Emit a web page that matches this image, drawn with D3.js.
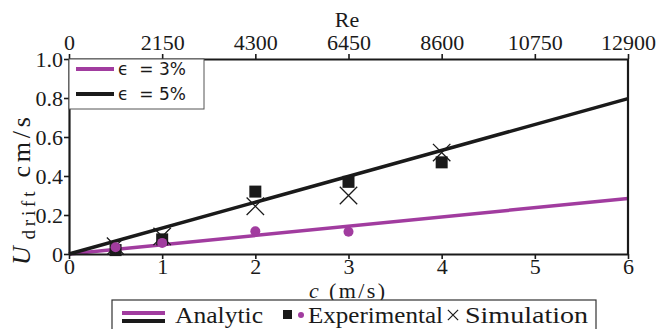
<!DOCTYPE html>
<html>
<head>
<meta charset="utf-8">
<script src="https://cdn.jsdelivr.net/npm/d3@7"></script>
<style>
  body { margin: 0; background: #fff; }
  .serif { font-family: "Liberation Serif", "DejaVu Serif", serif; fill: #1a1a1a; }
</style>
</head>
<body>
<div id="chart"></div>
<script>
// data
const speeds = [0.5, 1, 2, 3, 4];               // c (m/s)
const expFive = [0.02, 0.075, 0.32, 0.37, 0.47]; // experimental, eps = 5% (squares)
const expThreeC = [0.5, 1, 2, 3];
const expThree = [0.035, 0.057, 0.117, 0.114];   // experimental, eps = 3% (circles)
const simVals = [0.04, 0.09, 0.245, 0.30, 0.52]; // simulation (crosses)
const analyticC = [0, 6];
const analyticFive = [0, 0.797];
const analyticThree = [0, 0.285];
const xTicks = [0, 1, 2, 3, 4, 5, 6];
const yTicks = [0, 0.2, 0.4, 0.6, 0.8, 1.0];
const reTicks = [0, 2150, 4300, 6450, 8600, 10750, 12900];

const W = 660, H = 329;
const margin = { left: 69, right: 32, top: 59, bottom: 75 };
const purple = "#a13c9f", black = "#1a1a1a";
const fs = "22px";

const svg = d3.select("#chart").append("svg")
  .attr("width", W).attr("height", H);

const x = d3.scaleLinear().domain([0, 6]).range([margin.left, W - margin.right]);
const xRe = d3.scaleLinear().domain([0, 12900]).range([margin.left, W - margin.right]);
const y = d3.scaleLinear().domain([0, 1]).range([H - margin.bottom, margin.top]);

const plot = svg.append("g");

// analytic lines
const line = d3.line().x(d => x(d[0])).y(d => y(d[1]));
plot.append("path")
  .datum(analyticC.map((c, i) => [c, analyticThree[i]]))
  .attr("d", line).attr("fill", "none").attr("stroke", purple).attr("stroke-width", 3.5);
plot.append("path")
  .datum(analyticC.map((c, i) => [c, analyticFive[i]]))
  .attr("d", line).attr("fill", "none").attr("stroke", black).attr("stroke-width", 3.5);

// experimental squares
plot.selectAll(".sq").data(speeds.map((c, i) => [c, expFive[i]]))
  .join("rect")
  .attr("x", d => x(d[0]) - 6).attr("y", d => y(d[1]) - 6)
  .attr("width", 12).attr("height", 12).attr("fill", black);

// simulation crosses
const cross = d3.symbol().type(d3.symbolTimes).size(200);
plot.selectAll(".sim").data(speeds.map((c, i) => [c, simVals[i]]))
  .join("path")
  .attr("d", cross)
  .attr("transform", d => `translate(${x(d[0])},${y(d[1])})`)
  .attr("fill", "none").attr("stroke", black).attr("stroke-width", 1.3);

// experimental circles
plot.selectAll(".ci").data(expThreeC.map((c, i) => [c, expThree[i]]))
  .join("circle")
  .attr("cx", d => x(d[0])).attr("cy", d => y(d[1]))
  .attr("r", 5).attr("fill", purple);

// axes
const gBottom = svg.append("g")
  .attr("transform", `translate(0,${H - margin.bottom})`)
  .call(d3.axisBottom(x).tickValues(xTicks).tickFormat(d3.format("d")).tickSize(5).tickSizeOuter(0));
const gLeft = svg.append("g")
  .attr("transform", `translate(${margin.left},0)`)
  .call(d3.axisLeft(y).tickValues(yTicks).tickFormat(d => d === 0 ? "0" : d3.format(".1f")(d)).tickSize(5).tickSizeOuter(0));
const gTop = svg.append("g")
  .attr("transform", `translate(0,${margin.top})`)
  .call(d3.axisTop(xRe).tickValues(reTicks).tickFormat(d3.format("d")).tickSize(5).tickSizeOuter(0));
svg.append("line")
  .attr("x1", x(6)).attr("x2", x(6)).attr("y1", y(0)).attr("y2", y(1))
  .attr("stroke", black).attr("stroke-width", 2.2);

[gBottom, gLeft, gTop].forEach(g => {
  g.attr("font-family", null).attr("font-size", null);
  g.select(".domain").attr("stroke", black).attr("stroke-width", 2.2);
  g.selectAll(".tick line").attr("stroke", black).attr("stroke-width", 1.6);
  g.selectAll(".tick text").attr("class", "serif").style("font-size", fs).attr("fill", black);
});
gBottom.selectAll(".tick text").attr("dy", null).attr("y", 20);
gLeft.selectAll(".tick text").attr("x", -6).attr("dy", "0.35em");
gTop.selectAll(".tick text").attr("dy", null).attr("y", -9);

// axis titles
svg.append("text").attr("class", "serif").attr("x", 347).attr("y", 27)
  .attr("text-anchor", "middle").style("font-size", fs).text("Re");

const xl = svg.append("text").attr("class", "serif").attr("x", 347).attr("y", 298)
  .attr("text-anchor", "middle").style("font-size", "22px")
  .attr("textLength", 76).attr("lengthAdjust", "spacing");
xl.append("tspan").style("font-style", "italic").text("c");
xl.append("tspan").text("\u00A0(m/s)");

const yl = svg.append("text").attr("class", "serif")
  .attr("transform", "translate(30,191) rotate(-90)")
  .attr("text-anchor", "middle").style("font-size", "26px")
  .attr("textLength", 148).attr("lengthAdjust", "spacing");
yl.append("tspan").style("font-style", "italic").text("U");
yl.append("tspan").attr("dx", 3).attr("dy", 5).style("font-size", "19px").text("drift");
yl.append("tspan").attr("dy", -5).text("\u00A0cm/s");

// top-left legend
const leg = svg.append("g");
leg.append("rect").attr("x", x(0)).attr("y", y(1)).attr("width", 135).attr("height", 50)
  .attr("fill", "#fff").attr("stroke", "#555").attr("stroke-width", 1);
const legItems = [["3%", purple], ["5%", black]];
legItems.forEach((d, i) => {
  const yy = y(1) + 10 + i * 25;
  leg.append("line").attr("x1", x(0) + 7).attr("x2", x(0) + 45)
    .attr("y1", yy).attr("y2", yy).attr("stroke", d[1]).attr("stroke-width", 4);
  leg.append("text").attr("x", x(0) + 49).attr("y", yy + 6)
    .attr("xml:space", "preserve")
    .style("font-family", "'DejaVu Sans', sans-serif").style("font-size", "17px")
    .attr("fill", black)
    .text("\u03F5  = " + d[0]);
});

// bottom legend
const bl = svg.append("g");
bl.append("rect").attr("x", 112).attr("y", 300).attr("width", 484).attr("height", 34)
  .attr("fill", "#fff").attr("stroke", "#333").attr("stroke-width", 1.2);
bl.append("line").attr("x1", 122).attr("x2", 165).attr("y1", 313).attr("y2", 313)
  .attr("stroke", purple).attr("stroke-width", 4);
bl.append("line").attr("x1", 122).attr("x2", 165).attr("y1", 321).attr("y2", 321)
  .attr("stroke", black).attr("stroke-width", 4);
const legendTexts = [["Analytic", 175, 88], ["Experimental", 308, 135], ["Simulation", 465, 123]];
legendTexts.forEach(t => {
  bl.append("text").attr("class", "serif").attr("x", t[1]).attr("y", 323).style("font-size", "23px")
    .attr("textLength", t[2]).attr("lengthAdjust", "spacingAndGlyphs").text(t[0]);
});
bl.append("rect").attr("x", 283).attr("y", 310).attr("width", 9).attr("height", 9).attr("fill", black);
bl.append("circle").attr("cx", 301).attr("cy", 315).attr("r", 3).attr("fill", purple);
bl.append("path").attr("d", d3.symbol().type(d3.symbolTimes).size(70))
  .attr("transform", "translate(453,315)")
  .attr("fill", "none").attr("stroke", black).attr("stroke-width", 1.2);
</script>
</body>
</html>
